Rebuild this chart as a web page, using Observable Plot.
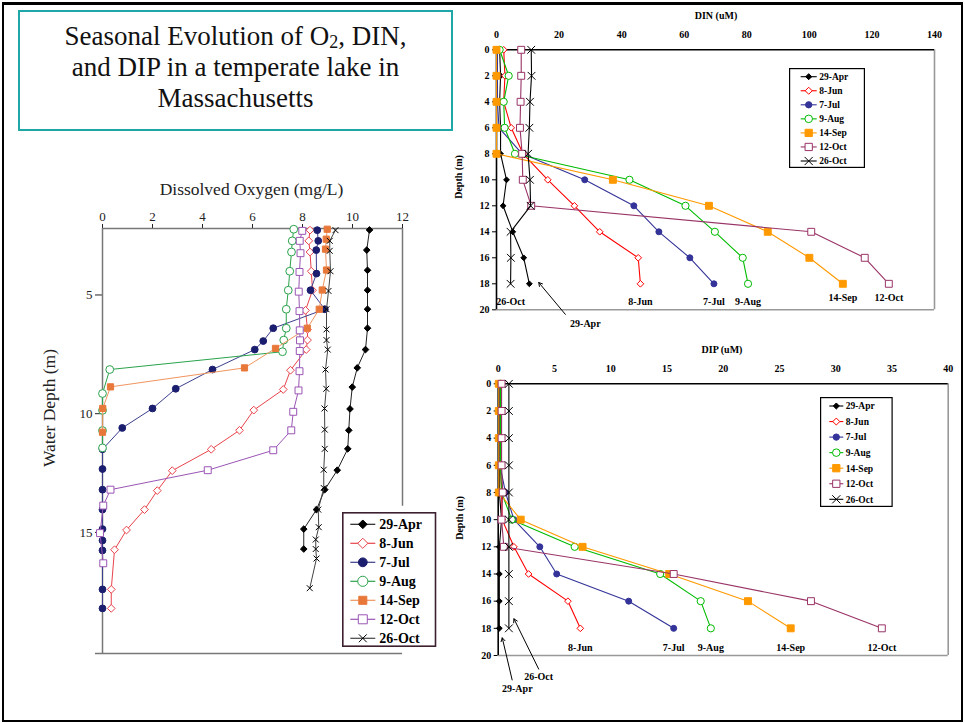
<!DOCTYPE html>
<html><head><meta charset="utf-8">
<script src="https://cdn.jsdelivr.net/npm/d3@7"></script>
<script src="https://cdn.jsdelivr.net/npm/@observablehq/plot@0.6"></script>
<style>
body{margin:0;background:#fff;}
#page{position:relative;width:965px;height:723px;overflow:hidden;font-family:"Liberation Serif","Times New Roman",serif;background:#fff;}
.abs{position:absolute;}
.rot{position:absolute;transform:translate(-50%,-50%) rotate(-90deg);white-space:nowrap;}
.ctr{position:absolute;transform:translate(-50%,-50%);white-space:nowrap;}
</style></head>
<body><div id="page"></div>
<script>
// ---------------- DATA ----------------
const seriesNames = ["29-Apr","8-Jun","7-Jul","9-Aug","14-Sep","12-Oct","26-Oct"];

// Dissolved oxygen (mg/L) vs water depth (m)
const o2Depth_29Apr = [2.26,3.11,3.96,4.8,5.6,6.4,7.3,8.07,8.88,9.8,10.7,11.48,12.38,13.2,14.04,14.86,15.7];
const o2_29Apr      = [10.68,10.57,10.6,10.6,10.6,10.6,10.52,10.19,9.99,9.9,9.85,9.81,9.39,8.89,8.56,8.05,8.05];
const o2Depth_8Jun  = [2.27,2.72,3.19,4.0,4.8,5.65,6.45,6.9,7.3,8.17,8.98,9.85,10.7,11.5,12.4,13.24,14.04,14.9,15.73,17.4,18.2];
const o2_8Jun       = [8.3,8.25,8.3,8.35,8.4,8.12,8.2,8.2,8.15,7.52,7.23,6.05,5.48,4.35,2.79,2.19,1.68,0.96,0.48,0.35,0.35];
const o2Depth_7Jul  = [2.27,2.72,3.11,4.1,4.8,5.6,6.4,6.94,7.3,8.14,8.95,9.78,10.6,11.5,12.33,13.2,14.04,14.86,15.34,15.76,17.4,18.2];
const o2_7Jul       = [8.59,8.63,8.55,8.56,8.32,8.89,6.83,6.43,6.09,4.4,2.93,2.0,0.79,0,0,0,0,0,0,0,0,0];
const o2Depth_9Aug  = [2.23,2.72,3.19,4.0,4.8,5.6,6.4,6.9,7.39,8.14,9.15,9.86,10.71,11.44];
const o2_9Aug       = [7.65,7.59,7.56,7.49,7.43,7.35,7.35,7.25,7.2,0.29,0,0,0,0];
const o2Depth_14Sep = [2.23,2.65,3.07,3.95,4.79,5.6,6.4,7.25,8.07,8.87,9.78,10.78];
const o2_14Sep      = [8.99,8.95,8.92,8.96,8.79,8.67,8.19,6.92,5.68,0.32,0.01,0];
const o2Depth_12Oct = [2.3,2.72,3.24,4.03,4.86,5.68,6.49,6.91,7.36,8.21,9.02,9.92,10.7,11.54,12.38,13.2,13.87,15.03,16.3];
const o2_12Oct      = [7.99,7.89,7.92,7.88,7.85,7.88,7.89,7.9,7.89,7.88,7.84,7.63,7.55,6.83,4.21,0.32,0.03,-0.1,0.03];
const o2Depth_26Oct = [2.27,2.72,3.14,4.0,4.83,5.6,6.45,6.9,7.3,8.14,8.95,9.78,10.67,11.48,12.36,13.13,14.04,14.78,15.3,15.7,16.1,17.35];
const o2_26Oct      = [9.32,9.09,9.09,9.12,9.04,8.96,8.96,8.96,9.01,8.92,8.95,8.88,8.89,8.89,8.85,8.85,8.63,8.65,8.53,8.53,8.56,8.29];
const o2Ticks = [0,2,4,6,8,10,12];
const o2DepthTicks = [5,10,15];

// DIN and DIP (uM), sampled every 2 m
const depths = [0,2,4,6,8,10,12,14,16,18];
const din_29Apr = [1.0,1.3,1.0,1.3,1.3,3.2,2.1,5.2,8.7,10.5];
const din_8Jun  = [2.3,2.7,2.3,4.7,8.5,16.4,24.9,33.0,45.3,46.0];
const din_7Jul  = [0.3,0.3,0.3,0.8,8.2,28.2,43.9,51.9,61.8,69.5];
const din_9Aug  = [1.0,3.9,2.3,2.6,5.9,42.5,60.4,69.8,78.7,80.4];
const din_14Sep = [0,0,0,0,0,37.2,67.9,86.7,100.0,110.7];
const din_12Oct = [7.9,7.9,7.7,7.5,8.2,8.4,11.1,100.6,117.7,125.4];
const din_26Oct = [11.1,11.2,10.7,10.5,10.1,10.7,10.9,4.5,4.6,4.5];
const dinTicks = [0,20,40,60,80,100,120,140];

const dip_29Apr = [0.1,0.1,0.1,0.1,0.1,0.3,0.1,0.1,0.1,0.1];
const dip_8Jun  = [0.2,0.2,0.2,0.2,0.3,0.35,1.4,2.7,6.2,7.3];
const dip_7Jul  = [0.15,0.15,0.15,0.15,0.65,1.4,3.7,5.2,11.6,15.6];
const dip_9Aug  = [0.2,0.2,0.2,0.2,0.3,1.2,6.8,14.4,18.0,18.9];
const dip_14Sep = [0.05,0.05,0.05,0.05,0.05,2.0,7.5,15.2,22.2,26.0];
const dip_12Oct = [0.3,0.3,0.3,0.3,0.4,0.3,0.5,15.6,27.8,34.1];
const dip_26Oct = [0.95,0.95,0.95,0.95,0.95,0.95,0.95,0.95,0.95,0.95];
const dipTicks = [0,5,10,15,20,25,30,35,40];
const depthTicks = [0,2,4,6,8,10,12,14,16,18,20];

// end-of-profile labels (series, label depth) and 29-Apr / 26-Oct arrow notes (data units)
const dinLabelSeries = ["8-Jun","7-Jul","9-Aug","14-Sep","12-Oct","26-Oct"];
const dinLabelDepth  = [19.35,19.35,19.35,19.05,19.05,19.35];
const dinArrowNotes  = [{name:"29-Apr", tx:28.4, ty:21.05, x1:22.0, y1:20.35, x2:13.5, y2:17.9}];
const dipLabelSeries = ["8-Jun","7-Jul","9-Aug","14-Sep","12-Oct"];
const dipLabelDepth  = [19.45,19.45,19.45,19.45,19.45];
const dipArrowNotes  = [
  {name:"29-Apr", tx:1.7, ty:22.45, x1:1.24, y1:21.8, x2:0.36, y2:18.7},
  {name:"26-Oct", tx:3.6, ty:21.6, x1:3.6, y1:21.0, x2:1.4, y2:17.3}
];

// ---------------- STYLES ----------------
const o2Styles = [
  {symbol:"diamond2", fill:"#000", stroke:"#000", r:3.0, line:"#222"},
  {symbol:"diamond2", fill:"white", stroke:"#e8434b", r:3.5, line:"#e8434b"},
  {symbol:"circle", fill:"#1b1e6e", stroke:"#1b1e6e", r:3.4, line:"#3b3f8c"},
  {symbol:"circle", fill:"white", stroke:"#2aa24b", r:3.9, line:"#2aa24b"},
  {symbol:"square", fill:"#e8783a", stroke:"#e8783a", r:3.5, line:"#f0955e"},
  {symbol:"square", fill:"white", stroke:"#9a55b5", r:3.9, line:"#9a55b5"},
  {symbol:"times", fill:"none", stroke:"#000", r:2.8, line:"#444"}
];
const nutStyles = [
  {symbol:"diamond2", fill:"#000", stroke:"#000", r:2.6, line:"#000"},
  {symbol:"diamond2", fill:"white", stroke:"#ff0000", r:3.0, line:"#ff0000"},
  {symbol:"circle", fill:"#333399", stroke:"#333399", r:3.0, line:"#333399"},
  {symbol:"circle", fill:"white", stroke:"#00bb00", r:3.6, line:"#00bb00"},
  {symbol:"square", fill:"#ff9900", stroke:"#ff9900", r:3.9, line:"#ff9900"},
  {symbol:"square", fill:"white", stroke:"#993366", r:3.9, line:"#993366"},
  {symbol:"times", fill:"none", stroke:"#000", r:3.6, line:"#000"}
];

// ---------------- HELPERS ----------------
const page = document.getElementById("page");
function table(ds, vs, name) { return ds.map((d, i) => ({d, v: vs[i], name})); }
function place(node, left, top) {
  const div = document.createElement("div");
  div.className = "abs"; div.style.left = left + "px"; div.style.top = top + "px";
  div.appendChild(node); page.appendChild(div); return div;
}
function html(cls, left, top, text, css) {
  const div = document.createElement("div");
  div.className = cls; div.style.left = left + "px"; div.style.top = top + "px";
  div.innerHTML = text; Object.assign(div.style, css || {}); page.appendChild(div); return div;
}
function seriesMarks(tables, styles, lw, sw) {
  const marks = [];
  tables.forEach((t, i) => {
    const s = styles[i];
    marks.push(Plot.line(t, {x: "v", y: "d", stroke: s.line, strokeWidth: lw}));
    marks.push(Plot.dot(t, {x: "v", y: "d", symbol: s.symbol, r: s.r, fill: s.fill, stroke: s.stroke, strokeWidth: sw}));
  });
  return marks;
}
const symMap = {circle: d3.symbolCircle, square: d3.symbolSquare, diamond2: d3.symbolDiamond2, times: d3.symbolTimes};
function legend(o) {
  const svg = d3.create("svg").attr("width", o.w).attr("height", o.h).style("overflow", "visible");
  svg.append("rect").attr("x", o.bw / 2).attr("y", o.bw / 2).attr("width", o.w - o.bw).attr("height", o.h - o.bw)
    .attr("fill", "white").attr("stroke", o.border).attr("stroke-width", o.bw);
  o.styles.forEach((s, i) => {
    const y = o.y0 + i * o.rowH;
    svg.append("line").attr("x1", o.x1).attr("x2", o.x2).attr("y1", y).attr("y2", y).attr("stroke", s.line).attr("stroke-width", o.lw);
    svg.append("path").attr("d", d3.symbol(symMap[s.symbol], Math.PI * (s.r * o.k) ** 2)())
      .attr("transform", `translate(${(o.x1 + o.x2) / 2},${y})`)
      .attr("fill", s.fill).attr("stroke", s.stroke).attr("stroke-width", o.sw);
    svg.append("text").attr("x", o.tx).attr("y", y).attr("dy", "0.35em").text(seriesNames[i])
      .attr("font-family", "Liberation Serif").attr("font-weight", "bold").attr("font-size", o.fs);
  });
  place(svg.node(), o.left, o.top);
}

// ---------------- FRAME & TITLE ----------------
html("abs", 2, 2, "", {width: "957px", height: "715px", border: "2px solid #000", borderTopWidth: "3px"});
html("abs", 18, 10, "Seasonal Evolution of O<sub style='font-size:18px;line-height:0;position:relative;top:3px;vertical-align:baseline'>2</sub>, DIN,<br>and DIP in a temperate lake in<br>Massachusetts",
  {width: "431px", height: "108px", border: "2.5px solid #1fa6a6", textAlign: "center", fontSize: "27px", lineHeight: "31px", paddingTop: "9px", color: "#111"});

// ---------------- O2 PANEL ----------------
const o2Tables = [
  table(o2Depth_29Apr, o2_29Apr, seriesNames[0]), table(o2Depth_8Jun, o2_8Jun, seriesNames[1]),
  table(o2Depth_7Jul, o2_7Jul, seriesNames[2]), table(o2Depth_9Aug, o2_9Aug, seriesNames[3]),
  table(o2Depth_14Sep, o2_14Sep, seriesNames[4]), table(o2Depth_12Oct, o2_12Oct, seriesNames[5]),
  table(o2Depth_26Oct, o2_26Oct, seriesNames[6])
];
const o2Plot = Plot.plot({
  width: 420, height: 510, marginLeft: 82, marginRight: 38, marginTop: 68, marginBottom: 17,
  style: {fontFamily: "Liberation Serif", fontSize: "13px", background: "transparent", overflow: "visible", color: "#222"},
  x: {domain: [0, 12], axis: "top", ticks: o2Ticks, tickSize: 5, tickPadding: 3, label: null},
  y: {domain: [2.2, 20.1], reverse: true, ticks: o2DepthTicks, tickSize: 7, tickPadding: 3, label: null},
  marks: [
    Plot.ruleY([2.2], {stroke: "#777", strokeWidth: 1.5}),
    Plot.ruleX([0], {stroke: "#777", strokeWidth: 1.5}),
    Plot.ruleX([12], {y1: 2.2, y2: 13.9, stroke: "#777", strokeWidth: 1.5}),
    Plot.ruleY([20.1], {x1: -0.28, x2: 12, stroke: "#777", strokeWidth: 1.5}),
    ...seriesMarks(o2Tables, o2Styles, 1, 1)
  ]
});
place(o2Plot, 20, 160);
html("ctr", 251.5, 189, "Dissolved Oxygen (mg/L)", {fontSize: "17.5px", color: "#222"});
html("rot", 49, 408, "Water Depth (m)", {fontSize: "17.5px", color: "#222"});
legend({left: 341.7, top: 511.7, w: 94.3, h: 135, bw: 1.6, border: "#3d2030", y0: 12.3, rowH: 19,
  x1: 8.3, x2: 33.3, tx: 37.3, fs: "14px", lw: 1.2, sw: 1, k: 1.3, styles: o2Styles});

// ---------------- DIN PANEL ----------------
const dinVals = [din_29Apr, din_8Jun, din_7Jul, din_9Aug, din_14Sep, din_12Oct, din_26Oct];
const dinTables = dinVals.map((vs, i) => table(depths, vs, seriesNames[i]));
const dinLabels = dinLabelSeries.map((n, i) => {
  const vs = dinVals[seriesNames.indexOf(n)];
  return {name: n, v: vs[vs.length - 1], d: dinLabelDepth[i]};
});
function nutrientPlot(tables, xMax, xTicks, labels, notes, w, h, mt, mb, ml, mr) {
  return Plot.plot({
    width: w, height: h, marginLeft: ml, marginRight: mr, marginTop: mt, marginBottom: mb,
    style: {fontFamily: "Liberation Serif", fontSize: "10px", fontWeight: "bold", background: "transparent", overflow: "visible", color: "#000"},
    x: {domain: [0, xMax], axis: "top", ticks: xTicks, tickSize: 0, tickPadding: 12, label: null},
    y: {domain: [0, 20], reverse: true, ticks: depthTicks, tickSize: 4, tickPadding: 3, label: null},
    marks: [
      Plot.ruleX([xMax], {stroke: "#999", strokeWidth: 1.6}),
      Plot.ruleY([20], {stroke: "#999", strokeWidth: 1.6}),
      Plot.ruleY([0], {stroke: "#000", strokeWidth: 1.6}),
      Plot.ruleX([0], {stroke: "#000", strokeWidth: 1.6}),
      ...seriesMarks(tables, nutStyles, 1.1, 1),
      Plot.text(labels, {x: "v", y: "d", text: "name", fontWeight: "bold", fontSize: 10}),
      Plot.arrow(notes, {x1: "x1", y1: "y1", x2: "x2", y2: "y2", stroke: "#000", strokeWidth: 1, headLength: 6}),
      Plot.text(notes, {x: "tx", y: "ty", text: "name", fontWeight: "bold", fontSize: 10})
    ]
  });
}
const dinPlot = nutrientPlot(dinTables, 140, dinTicks, dinLabels, dinArrowNotes, 510, 340, 49.3, 30.7, 46, 26);
place(dinPlot, 450, 0);
html("ctr", 716, 15, "DIN (uM)", {fontSize: "10px", fontWeight: "bold"});
html("rot", 458, 177, "Depth (m)", {fontSize: "10px", fontWeight: "bold"});
legend({left: 789, top: 68, w: 76, h: 100, bw: 1.2, border: "#000", y0: 8.7, rowH: 14.05,
  x1: 11.7, x2: 27.7, tx: 30.3, fs: "9.5px", lw: 1.1, sw: 1, k: 1.05, styles: nutStyles});

// ---------------- DIP PANEL ----------------
const dipVals = [dip_29Apr, dip_8Jun, dip_7Jul, dip_9Aug, dip_14Sep, dip_12Oct, dip_26Oct];
const dipTables = dipVals.map((vs, i) => table(depths, vs, seriesNames[i]));
const dipLabels = dipLabelSeries.map((n, i) => {
  const vs = dipVals[seriesNames.indexOf(n)];
  return {name: n, v: vs[vs.length - 1], d: dipLabelDepth[i]};
});
const dipPlot = nutrientPlot(dipTables, 40, dipTicks, dipLabels, dipArrowNotes, 510, 383, 43.3, 68, 47.7, 12.3);
place(dipPlot, 450, 340);
html("ctr", 722, 349, "DIP (uM)", {fontSize: "10px", fontWeight: "bold"});
html("rot", 459, 518, "Depth (m)", {fontSize: "10px", fontWeight: "bold"});
legend({left: 820, top: 396.7, w: 72.7, h: 110, bw: 1.2, border: "#000", y0: 9, rowH: 15.55,
  x1: 9.3, x2: 23.3, tx: 25.7, fs: "9.5px", lw: 1.1, sw: 1, k: 1.05, styles: nutStyles});
</script>
</body></html>
